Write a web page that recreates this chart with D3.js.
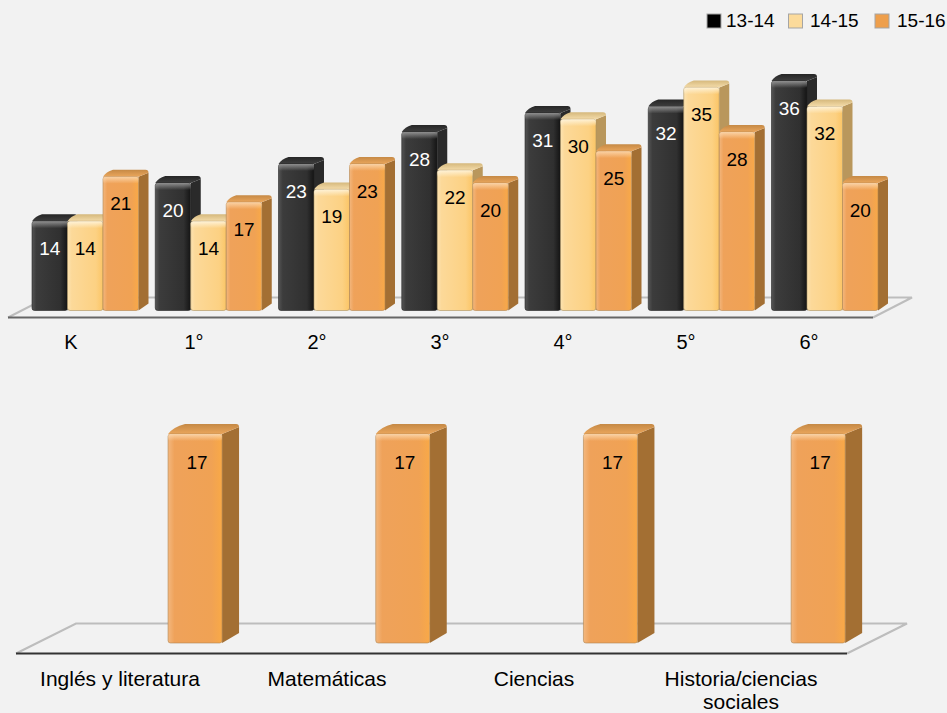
<!DOCTYPE html>
<html>
<head>
<meta charset="utf-8">
<script src="https://cdn.jsdelivr.net/npm/d3@7"></script>
<style>
  html, body { margin: 0; padding: 0; background: #f2f2f2; }
  svg { display: block; }
  text { font-family: "Liberation Sans", Arial, sans-serif; font-size: 19px; fill: #000; }
  .top-axis text { font-size: 20px; }
  .bottom-axis text { font-size: 21px; }
</style>
</head>
<body>
<div id="chart"></div>
<script>
// data
const grades = ["K", "1°", "2°", "3°", "4°", "5°", "6°"];
const years = ["13-14", "14-15", "15-16"];
const values1314 = [14, 20, 23, 28, 31, 32, 36];
const values1415 = [14, 14, 19, 22, 30, 35, 32];
const values1516 = [21, 17, 23, 20, 25, 28, 20];
const subjects = ["Inglés y literatura", "Matemáticas", "Ciencias", "Historia/ciencias sociales"];
const subjectValues = [17, 17, 17, 17];

const width = 947, height = 713;
const svg = d3.select("#chart").append("svg")
    .attr("width", width)
    .attr("height", height);
const defs = svg.append("defs");

const palette = {
    black:  { front: ["#555555", "#3c3c3c", "#303030", "#141414"], side: "#2a2a2a", top: ["#3e3e3e", "#262626"], shine: "#9a9a9a", text: "#fff", key: "#000000", edge: "#222222" },
    cream:  { front: ["#fde3b0", "#fcd999", "#fcd183", "#fbc566"], side: "#b9975c", top: ["#f4dcaa", "#d5b87c"], shine: "#fff6e0", text: "#000", key: "#fcdb9b", edge: "#a8915f" },
    orange: { front: ["#f3b77e", "#efa25a", "#f0a254", "#f9a947"], side: "#a36f33", top: ["#eaa65c", "#c58945"], shine: "#fcd9b0", text: "#000", key: "#ee9f4c", edge: "#b08450" }
};

Object.entries(palette).forEach(([name, c]) => {
    const g = defs.append("linearGradient").attr("id", "front-" + name);
    [0, 0.12, 0.8, 1].forEach((o, i) => g.append("stop").attr("offset", o).attr("stop-color", c.front[i]));
    const t = defs.append("linearGradient").attr("id", "top-" + name)
        .attr("x1", 0).attr("x2", 0).attr("y1", 1).attr("y2", 0);
    c.top.forEach((col, i) => t.append("stop").attr("offset", i).attr("stop-color", col));
    const s = defs.append("linearGradient").attr("id", "shine-" + name)
        .attr("x1", 0).attr("x2", 0).attr("y1", 0).attr("y2", 1);
    s.append("stop").attr("offset", 0).attr("stop-color", c.shine).attr("stop-opacity", 0.9);
    s.append("stop").attr("offset", 1).attr("stop-color", c.shine).attr("stop-opacity", 0);
});

// floor of the 3d plot: light parallelogram with a dark front edge
function drawFloor(g, x0, x1, y, dx, dy, edge) {
    g.append("path")
        .attr("d", `M${x0},${y}L${x0 + dx},${y - dy}L${x1 + dx},${y - dy}L${x1},${y}`)
        .attr("fill", "none")
        .attr("stroke", "#bdbdbd")
        .attr("stroke-width", 2);
    g.append("line")
        .attr("x1", x0).attr("x2", x1)
        .attr("y1", y).attr("y2", y)
        .attr("stroke", edge)
        .attr("stroke-width", 2);
}

function drawBar(g, x, w, yTop, yBase, dx, dy, name) {
    const r = 3;
    const bar = g.append("g");
    // side
    bar.append("path")
        .attr("d", `M${x + w},${yTop}L${x + w + dx},${yTop - dy + r}L${x + w + dx},${yBase - dy}L${x + w},${yBase}Z`)
        .attr("fill", palette[name].side);
    // top
    bar.append("path")
        .attr("d", `M${x},${yTop}Q${x + dx * 0.3},${yTop - dy * 0.7} ${x + dx},${yTop - dy}`
            + `L${x + w + dx - r},${yTop - dy}Q${x + w + dx},${yTop - dy} ${x + w + dx},${yTop - dy + r}`
            + `L${x + w},${yTop}Z`)
        .attr("fill", `url(#top-${name})`);
    // front
    bar.append("rect")
        .attr("x", x).attr("y", yTop)
        .attr("width", w).attr("height", yBase - yTop)
        .attr("rx", 2.5)
        .attr("fill", `url(#front-${name})`)
        .attr("stroke", palette[name].edge)
        .attr("stroke-width", 0.6);
    // bevel highlight at the top of the front face
    bar.append("rect")
        .attr("x", x).attr("y", yTop)
        .attr("width", w).attr("height", 7)
        .attr("rx", 2.5)
        .attr("fill", `url(#shine-${name})`);
}

function bottomAxis(g, scale, y, cls) {
    g.append("g")
        .attr("class", cls)
        .attr("transform", `translate(0,${y})`)
        .call(d3.axisBottom(scale).tickSize(0).tickPadding(0))
        .call(a => a.select(".domain").remove())
        .call(a => a.selectAll("text")
            .attr("font-family", null).attr("font-size", null)
            .attr("fill", null).attr("dy", null));
}

// top chart, by grade
const topChart = svg.append("g");
const topFloor = { x0: 8, x1: 873, y: 317.5, dx: 39, dy: 20 };
const topBase = 310.5;
drawFloor(topChart, topFloor.x0, topFloor.x1, topFloor.y, topFloor.dx, topFloor.dy, "#666666");

const xTop = d3.scaleBand().domain(grades).range([9.5, 870.5]);
const xBars = d3.scaleBand().domain(grades).range([32, 894.75]);
const xYear = d3.scaleBand().domain(years).range([0, 106.5]);
const yTop = d3.scaleLinear().domain([0, 36]).range([topBase, 81]);
const yearSeries = [values1314, values1415, values1516];
const yearColors = ["black", "cream", "orange"];

grades.forEach((grade, i) => {
    years.forEach((year, j) => {
        const v = yearSeries[j][i];
        const x = xBars(grade) + xYear(year);
        drawBar(topChart, x, xYear.bandwidth(), yTop(v), topBase, 10, 7, yearColors[j]);
    });
});
grades.forEach((grade, i) => {
    years.forEach((year, j) => {
        const v = yearSeries[j][i];
        topChart.append("text")
            .attr("x", xBars(grade) + xYear(year) + xYear.bandwidth() / 2)
            .attr("y", yTop(v) + 27)
            .attr("dy", "0.35em")
            .attr("text-anchor", "middle")
            .style("fill", palette[yearColors[j]].text)
            .text(v);
    });
});
bottomAxis(topChart, xTop, 349, "top-axis");

// bottom chart, by subject
const bottomChart = svg.append("g");
const botFloor = { x0: 16, x1: 847, y: 653.5, dx: 60, dy: 30 };
const botBase = 643;
drawFloor(bottomChart, botFloor.x0, botFloor.x1, botFloor.y, botFloor.dx, botFloor.dy, "#333333");

const xBot = d3.scaleBand().domain(subjects).range([16.5, 844.5]);
const xBotBars = d3.scaleBand().domain(subjects).range([91.2, 922]);
const yBot = d3.scaleLinear().domain([0, 17]).range([botBase, 434]);
const botWidth = 54;

subjects.forEach((s, i) => {
    const x = xBotBars(s) + xBotBars.bandwidth() / 2 - botWidth / 2;
    drawBar(bottomChart, x, botWidth, yBot(subjectValues[i]), botBase, 17, 10, "orange");
    bottomChart.append("text")
        .attr("x", x + botWidth / 2 + 2)
        .attr("y", yBot(subjectValues[i]) + 28)
        .attr("dy", "0.35em")
        .attr("text-anchor", "middle")
        .text(subjectValues[i]);
});
bottomAxis(bottomChart, xBot, 686, "bottom-axis");
// last label wraps on two lines
bottomChart.selectAll(".tick text")
    .filter(d => d === "Historia/ciencias sociales")
    .text(null)
    .call(t => {
        t.append("tspan").attr("x", 0).attr("y", 0).text("Historia/ciencias");
        t.append("tspan").attr("x", 0).attr("y", 0).attr("dy", "23px").text("sociales");
    });

// legend
const legendX = [707, 788.5, 875];
const legendTextX = [726, 810, 897];
const legend = svg.append("g");
years.forEach((year, i) => {
    legend.append("rect")
        .attr("x", legendX[i]).attr("y", 14)
        .attr("width", 14).attr("height", 14)
        .attr("fill", palette[yearColors[i]].key)
        .attr("stroke", "#a5a5a5")
        .attr("stroke-width", 1);
    legend.append("text")
        .attr("x", legendTextX[i])
        .attr("y", 20.5)
        .attr("dy", "0.35em")
        .text(year);
});
</script>
</body>
</html>
